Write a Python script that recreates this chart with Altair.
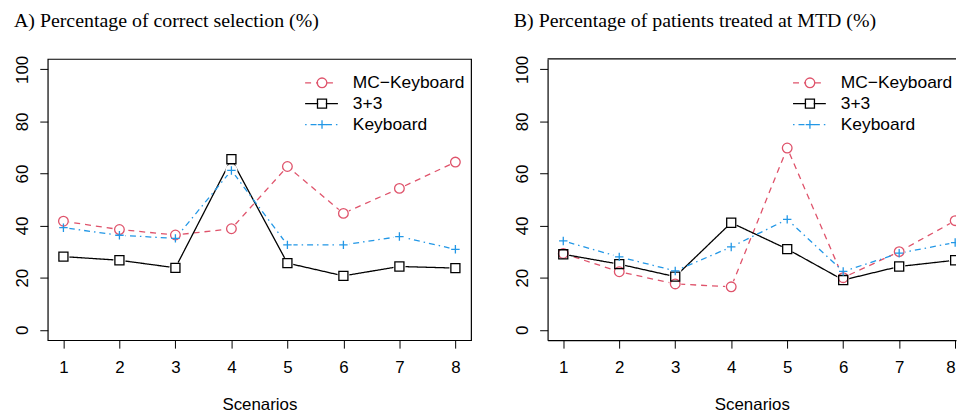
import altair as alt
import pandas as pd

scenarios = [1, 2, 3, 4, 5, 6, 7, 8]
series = ["MC\u2212Keyboard", "3+3", "Keyboard"]
colors = ["#DF536B", "#000000", "#2297E6"]

# A) Percentage of correct selection (%)
sel_mc = [41.7, 38.5, 36.4, 38.8, 62.7, 44.7, 54.3, 64.4]
sel_33 = [28.1, 26.7, 23.8, 65.5, 25.6, 20.7, 24.3, 23.7]
sel_kb = [39.2, 36.3, 35.1, 61.2, 32.6, 32.6, 35.8, 30.9]

# B) Percentage of patients treated at MTD (%)
mtd_mc = [29.3, 22.3, 17.6, 16.5, 69.8, 20.0, 30.0, 41.9]
mtd_33 = [29.0, 25.2, 20.4, 41.1, 31.0, 19.1, 24.3, 26.7]
mtd_kb = [34.1, 28.0, 22.6, 31.8, 42.4, 22.4, 29.4, 33.5]

y_ticks = [0, 20, 40, 60, 80, 100]

PLUS = "M-1,0H1M0,-1V1"
color_scale = alt.Scale(domain=series, range=colors)
dash_scale = alt.Scale(domain=series, range=[[6, 5], [1, 0], [1.5, 4, 6, 4]])
shape_scale = alt.Scale(domain=series, range=["circle", "square", PLUS])

H = 283
SW = 1.3


def panel(title, mc, t33, kb, width, xmax, full_frame, lx):
    rows = []
    for s, vals in zip(series, [mc, t33, kb]):
        for sc, v in zip(scenarios, vals):
            rows.append({"Scenario": sc, "Value": v, "series": s})
    df = pd.DataFrame(rows)

    x = alt.X("Scenario:Q",
              scale=alt.Scale(domain=[0.72, xmax], nice=False, zero=False),
              axis=alt.Axis(values=scenarios, format="d", title="Scenarios",
                            tickSize=8, labelPadding=12, titlePadding=21,
                            labelFlush=3, domain=not full_frame,
                            domainColor="black", domainWidth=1.2))
    y = alt.Y("Value:Q",
              scale=alt.Scale(domain=[-4, 104], nice=False, zero=False),
              axis=alt.Axis(values=y_ticks, format="d", title=None,
                            labelAngle=270, labelAlign="center", labelBaseline="bottom",
                            tickSize=8, labelPadding=8, labelFlush=False,
                            domain=not full_frame, domainColor="black",
                            domainWidth=1.2))
    color = alt.Color("series:N", scale=color_scale, legend=None)
    dash = alt.StrokeDash("series:N", scale=dash_scale, legend=None)
    shape = alt.Shape("series:N", scale=shape_scale, legend=None)

    clip = not full_frame
    base = alt.Chart(df)
    lines = base.mark_line(strokeWidth=SW, clip=clip).encode(
        x=x, y=y, color=color, strokeDash=dash, detail="series:N",
        order="Scenario:Q")
    halo = base.mark_point(filled=True, color="white", opacity=1, size=150,
                           shape="circle", clip=clip).encode(x=x, y=y)
    pts = base.mark_point(filled=False, strokeWidth=SW, opacity=1, clip=clip).encode(
        x=x, y=y, stroke=alt.Stroke("series:N", scale=color_scale, legend=None),
        shape=shape,
        size=alt.Size("series:N", scale=alt.Scale(domain=series, range=[94, 72, 121]),
                      legend=None))

    layers = [lines, halo, pts]
    if not full_frame:
        layers.append(alt.Chart(pd.DataFrame({"series": ["frame"]})).mark_rule(
            color="black", strokeWidth=1.2).encode(
            x=alt.value(0), x2=alt.value(width), y=alt.value(0)))

    for i, s in enumerate(series):
        ld = alt.Chart(pd.DataFrame({"series": [s]}))
        yy = 24 + 21 * i
        layers.append(ld.mark_rule(strokeWidth=SW).encode(
            x=alt.value(lx), x2=alt.value(lx + 33), y=alt.value(yy),
            color=color, strokeDash=dash))
        layers.append(ld.mark_point(filled=True, color="white", size=60,
                                    shape="circle", opacity=1).encode(
            x=alt.value(lx + 17), y=alt.value(yy)))
        layers.append(ld.mark_point(filled=False, strokeWidth=SW, opacity=1).encode(
            x=alt.value(lx + 17), y=alt.value(yy),
            stroke=alt.Stroke("series:N", scale=color_scale, legend=None),
            shape=shape,
            size=alt.Size("series:N", scale=alt.Scale(domain=series, range=[50, 42, 64]),
                          legend=None)))
        layers.append(ld.mark_text(align="left", baseline="middle",
                                   font="Liberation Sans", fontSize=17.5,
                                   color="black").encode(
            x=alt.value(lx + 48), y=alt.value(yy), text="series:N"))

    if full_frame:
        view = alt.ViewBackground(stroke="black", strokeWidth=1.2)
    else:
        view = alt.ViewBackground(stroke="transparent", strokeWidth=0)

    return alt.layer(*layers).properties(
        width=width, height=H, view=view,
        title=alt.TitleParams(title, anchor="start", frame="bounds",
                              font="Liberation Serif", fontSize=20,
                              fontWeight="normal", color="black", offset=24))


left = panel("A) Percentage of correct selection (%)", sel_mc, sel_33, sel_kb,
             426, 8.28, True, 259)
right = panel("B) Percentage of patients treated at MTD (%)", mtd_mc, mtd_33, mtd_kb,
              411, 8.015, False, 247)

chart = alt.hconcat(left, right, spacing=41).properties(
    padding={"left": 5, "top": 1, "right": 0, "bottom": 0},
    background="white",
).configure_axis(
    grid=False,
    labelFont="Liberation Sans", labelFontSize=17, labelColor="black",
    tickColor="black", tickWidth=1,
    titleFont="Liberation Sans", titleFontSize=17, titleFontWeight="normal",
    titleColor="black",
)

chart.save("out.html", embed_options={"renderer": "svg", "actions": False})
